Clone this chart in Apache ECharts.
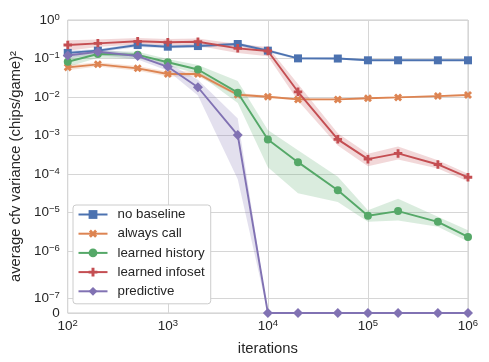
<!DOCTYPE html>
<html><head><meta charset="utf-8">
<script src="https://cdn.jsdelivr.net/npm/echarts@6/dist/echarts.min.js"></script>
<style>html,body{margin:0;padding:0;background:#fff}#c{width:489px;height:362px}</style>
</head><body><div id="c"></div>
<script>
// ---- data ----
const iterations = [100, 200, 500, 1000, 2000, 5000, 10000, 20000, 50000, 100000, 200000, 500000, 1000000];

const noBaseline   = [0.14, 0.16, 0.224, 0.203, 0.211, 0.238, 0.16, 0.101, 0.1, 0.09, 0.09, 0.09, 0.09];
const noBaselineLo = [0.125, 0.145, 0.2, 0.185, 0.19, 0.215, 0.145, 0.095, 0.095, 0.086, 0.086, 0.086, 0.086];
const noBaselineHi = [0.16, 0.178, 0.25, 0.22, 0.235, 0.26, 0.178, 0.107, 0.106, 0.095, 0.095, 0.095, 0.095];

const alwaysCall   = [0.059, 0.0707, 0.0556, 0.0396, 0.04, 0.0115, 0.0102, 0.0087, 0.0087, 0.0093, 0.0098, 0.0106, 0.0113];
const alwaysCallLo = [0.05, 0.062, 0.048, 0.034, 0.034, 0.0105, 0.0095, 0.0083, 0.0083, 0.0089, 0.0094, 0.0101, 0.0108];
const alwaysCallHi = [0.068, 0.08, 0.064, 0.046, 0.047, 0.0127, 0.011, 0.0092, 0.0092, 0.0098, 0.0103, 0.0111, 0.0118];

const learnedHistory   = [0.0826, 0.131, 0.125, 0.08, 0.052, 0.013, 7.9e-4, 2.05e-4, 3.8e-5, 8.3e-6, 1.1e-5, 5.8e-6, 2.35e-6];
const learnedHistoryLo = [0.06, 0.105, 0.1, 0.065, 0.04, 0.007, 1.5e-4, 3.2e-5, 1.9e-5, 5.8e-6, 6.3e-6, 4.3e-6, 1.8e-6];
const learnedHistoryHi = [0.11, 0.16, 0.15, 0.097, 0.068, 0.026, 1.4e-3, 4.2e-4, 8.5e-5, 1.15e-5, 2.3e-5, 7.8e-6, 3.5e-6];

const learnedInfoset   = [0.224, 0.248, 0.28, 0.265, 0.273, 0.184, 0.157, 0.0137, 8e-4, 2.45e-4, 3.45e-4, 1.78e-4, 8.3e-5];
const learnedInfosetLo = [0.16, 0.2, 0.235, 0.22, 0.215, 0.14, 0.115, 0.008, 5.5e-4, 1.6e-4, 2.4e-4, 1.4e-4, 6.4e-5];
const learnedInfosetHi = [0.3, 0.31, 0.34, 0.32, 0.33, 0.24, 0.2, 0.022, 1.15e-3, 3.4e-4, 5.2e-4, 2.3e-4, 1.02e-4];

const predictive   = [0.12, 0.15, 0.116, 0.061, 0.018, 1.03e-3, 0, 0, 0, 0, 0, 0, 0];
const predictiveLo = [0.1, 0.125, 0.095, 0.048, 0.011, 7.4e-5, 0, 0, 0, 0, 0, 0, 0];
const predictiveHi = [0.145, 0.175, 0.135, 0.077, 0.028, 2.8e-3, 0, 0, 0, 0, 0, 0, 0];

const yTickValues = [1, 0.1, 0.01, 1e-3, 1e-4, 1e-5, 1e-6, 1e-7, 0];

const seriesNames = ['no baseline', 'always call', 'learned history', 'learned infoset', 'predictive'];

// ---- y scale: log above 1e-6, stretched decade to 1e-7, linear to 0 ----
const OFF = 7.603;
function T(v) {
  if (v <= 0) return 0;
  if (v < 1e-7) return v / 1e-7 * 0.374;
  if (v < 1e-6) return 0.374 + (Math.log10(v) + 7) * 1.229;
  return Math.log10(v) + OFF;
}

const FONT = '"Liberation Sans", Arial, sans-serif';
const TXT = '#262626';
const colors = ['#4C72B0', '#DD8452', '#55A868', '#C44E52', '#8172B3'];
const plusPath = 'path://M-1,-3L1,-3L1,-1L3,-1L3,1L1,1L1,3L-1,3L-1,1L-3,1L-3,-1L-1,-1Z';
const symbols = [
  { symbol: 'rect', size: 8, rot: 0 },
  { symbol: plusPath, size: 8.5, rot: 45 },
  { symbol: 'circle', size: 8, rot: 0 },
  { symbol: plusPath, size: 8.5, rot: 0 },
  { symbol: 'diamond', size: 10, rot: 0 }
];
const mains = [noBaseline, alwaysCall, learnedHistory, learnedInfoset, predictive];
const los = [noBaselineLo, alwaysCallLo, learnedHistoryLo, learnedInfosetLo, predictiveLo];
const his = [noBaselineHi, alwaysCallHi, learnedHistoryHi, learnedInfosetHi, predictiveHi];

const series = [];
mains.forEach((m, k) => {
  series.push({
    type: 'custom', name: '_band' + k, silent: true, z: 1, clip: true,
    data: iterations.map((x, i) => [x, T(m[i])]),
    renderItem: (params, api) => {
      if (params.dataIndex !== 0) return null;
      const upper = iterations.map((x, i) => api.coord([x, T(his[k][i])]));
      const lower = iterations.map((x, i) => api.coord([x, T(los[k][i])])).reverse();
      return {
        type: 'polygon',
        shape: { points: upper.concat(lower) },
        style: { fill: colors[k], opacity: 0.22, stroke: null }
      };
    }
  });
});
mains.forEach((m, k) => {
  series.push({
    type: 'line', name: seriesNames[k],
    data: iterations.map((x, i) => [x, T(m[i])]),
    symbol: symbols[k].symbol, symbolSize: symbols[k].size, symbolRotate: symbols[k].rot,
    showAllSymbol: true,
    lineStyle: { color: colors[k], width: 1.9 },
    itemStyle: { color: colors[k] },
    z: 3 + k
  });
});

const rich = {
  b: { fontSize: 13.5, fontFamily: FONT, color: TXT, lineHeight: 16 },
  s: { fontSize: 9.5, fontFamily: FONT, color: TXT, verticalAlign: 'top', lineHeight: 10 }
};

function yLabel(val) {
  for (const v of yTickValues) {
    if (Math.abs(T(v) - val) < 1e-3) {
      if (v === 0) return '{b|0}';
      const e = Math.round(Math.log10(v));
      return '{b|10}{s|' + (e < 0 ? '\u2212' + (-e) : e) + '}';
    }
  }
  return '';
}

const chart = echarts.init(document.getElementById('c'), null, { renderer: 'canvas' });
chart.setOption({
  animation: false,
  backgroundColor: '#ffffff',
  textStyle: { fontFamily: FONT, color: TXT },
  grid: { left: 66, right: 21, top: 20, bottom: 49, show: true, borderColor: '#cccccc', borderWidth: 1, containLabel: false },
  xAxis: {
    type: 'log', logBase: 10, min: 100, max: 1000000,
    name: 'iterations', nameLocation: 'middle', nameGap: 28,
    nameTextStyle: { fontSize: 14.8, fontFamily: FONT, color: TXT },
    axisLine: { show: false }, axisTick: { show: false },
    axisLabel: {
      margin: 5, rich: rich,
      formatter: (v) => '{b|10}{s|' + Math.round(Math.log10(v)) + '}'
    },
    splitLine: { show: true, lineStyle: { color: '#d6d6d6', width: 1 } }
  },
  yAxis: {
    type: 'value', min: 0, max: OFF,
    name: 'average cfv variance (chips/game)\u00B2', nameLocation: 'middle', nameGap: 36,
    nameTextStyle: { fontSize: 14.8, fontFamily: FONT, color: TXT },
    axisLine: { show: false },
    axisTick: { show: false, customValues: yTickValues.map(T) },
    axisLabel: { margin: 8, rich: rich, customValues: yTickValues.map(T), formatter: yLabel },
    splitLine: { show: true, lineStyle: { color: '#d6d6d6', width: 1 } }
  },
  legend: {
    data: seriesNames, orient: 'vertical', left: 73, top: 205,
    itemWidth: 29, itemHeight: 11, itemGap: 6.2,
    padding: [3, 6, 6, 4.5],
    backgroundColor: '#ffffff', borderColor: '#cccccc', borderWidth: 1, borderRadius: 3,
    textStyle: { fontSize: 13.3, fontFamily: FONT, color: TXT, padding: [0, 0, 0, 5] }
  },
  series: series
});
</script>
</body></html>
